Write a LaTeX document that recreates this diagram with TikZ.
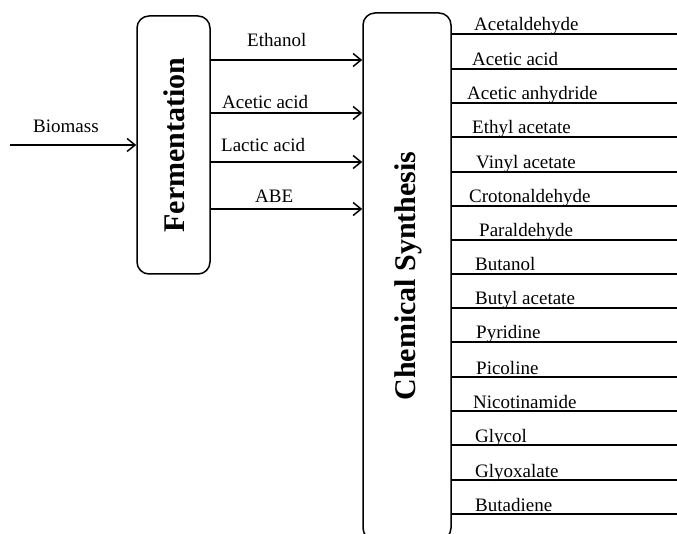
\documentclass[tikz,border=0pt]{standalone}
\usepackage{fontspec}
\setmainfont{Liberation Serif}
\usetikzlibrary{arrows.meta}
\begin{document}
\begin{tikzpicture}[x=1pt,y=-1pt,
  box/.style={draw, line width=1.5pt, rounded corners=12pt, inner sep=0pt},
  big/.style={font=\fontsize{30}{32}\selectfont\bfseries, rotate=90, inner sep=0pt},
  lbl/.style={font=\fontsize{19}{21}\selectfont, anchor=base west, inner sep=0pt},
  arr/.style={line width=1.5pt, -{Straight Barb[length=8pt,width=13pt,line width=1.5pt]}},
  outl/.style={line width=1.5pt}]
\useasboundingbox (0,0) rectangle (677,534);
% boxes
\node[box, minimum width=73pt, minimum height=258pt] (ferm) at (173.5,145) {};
\node[box, minimum width=88pt, minimum height=527pt] (syn) at (407,276.5) {};
\node[big] (fermtxt) at (174,145) {Fermentation};
\node[big] (syntxt) at (408,276) {Chemical Synthesis};
% biomass input
\coordinate (bstart) at (10,145);
\draw[arr] (bstart) -- (bstart -| ferm.west);
\node[lbl] (biomass) at (33,133) {Biomass};
% intermediate arrows
\foreach \y/\bx/\by/\t [count=\i] in {60/247/47/Ethanol, 113/222/109/Acetic acid, 162/221/152/Lactic acid, 209/255/203/ABE}{
  \coordinate (m\i) at (210,\y);
  \draw[arr] (m\i -| ferm.east) -- (m\i -| syn.west);
  \node[lbl] (ml\i) at (\bx,\by) {\t};
}
% products
\foreach \y/\lx/\t [count=\i] in {
  34/474/Acetaldehyde,
  69/472/Acetic acid,
  103/467/Acetic anhydride,
  137/472/Ethyl acetate,
  172/476/Vinyl acetate,
  206/469/Crotonaldehyde,
  240/479/Paraldehyde,
  274/475/Butanol,
  308/475/Butyl acetate,
  342/476/Pyridine,
  377/476/Picoline,
  411/473/Nicotinamide,
  445/475/Glycol,
  480/475/Glyoxalate,
  514/475/Butadiene}{
  \coordinate (p\i) at (677,\y);
  \draw[outl] (p\i -| syn.east) -- (p\i);
  \node[lbl] (pl\i) at (\lx,\y-3) {\t};
}
\end{tikzpicture}
\end{document}
